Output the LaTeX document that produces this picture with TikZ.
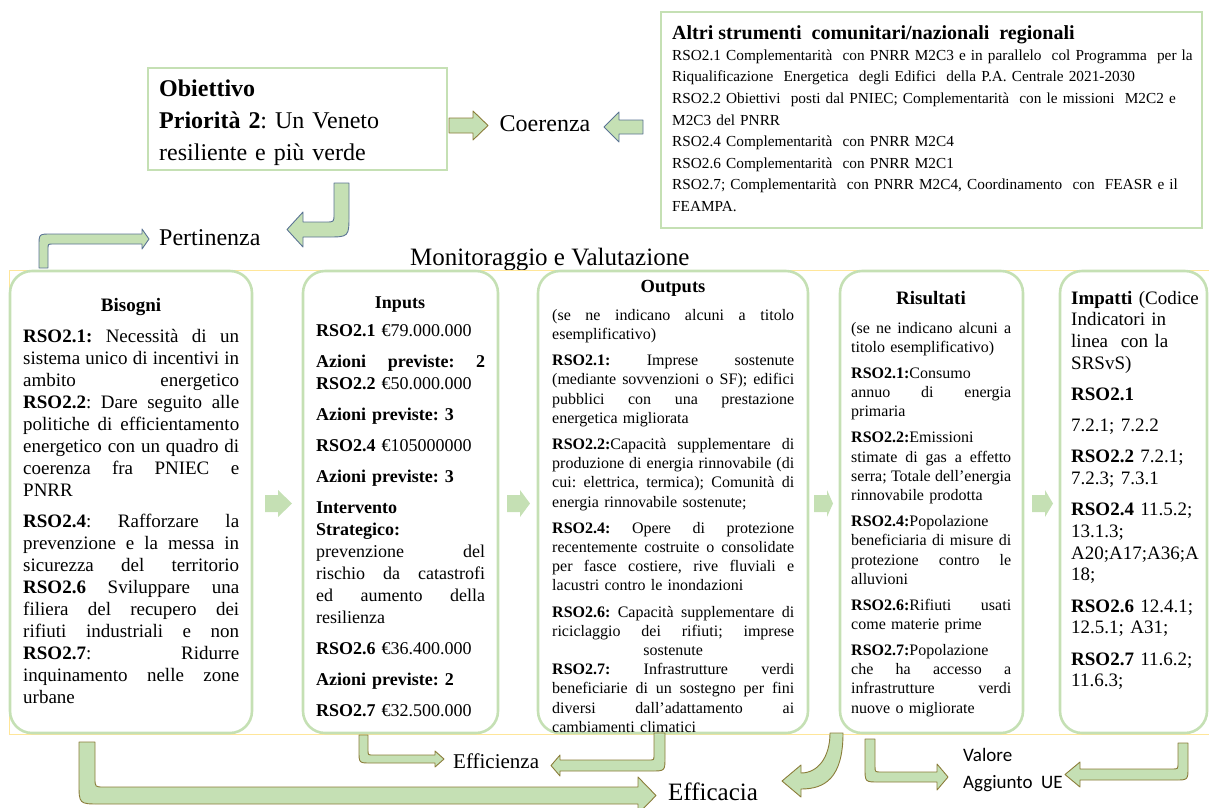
\documentclass[tikz,border=0pt]{standalone}
\usepackage{fontspec}
\setmainfont{Liberation Serif}
\newfontfamily\calibfont{Carlito}
\frenchspacing
\definecolor{gfill}{HTML}{C5E0B4}
\definecolor{gbord}{HTML}{C5E0B4}
\definecolor{oliveln}{HTML}{8B7D3A}
\definecolor{bluelnc}{HTML}{5A7394}
\definecolor{yellowln}{HTML}{FFE699}
\newcommand\jb[1]{\makebox[216pt][s]{\spaceskip=0pt\xspaceskip=0pt\relax #1}\\}
\newcommand\ji[1]{\makebox[169pt][s]{\spaceskip=0pt\xspaceskip=0pt\relax #1}\\}
\newcommand\jo[1]{\makebox[242pt][s]{\spaceskip=0pt\xspaceskip=0pt\relax #1}\\}
\newcommand\jr[1]{\makebox[160pt][s]{\spaceskip=0pt\xspaceskip=0pt\relax #1}\\}
\newcommand\fs[2]{\fontsize{#1}{#2}\selectfont}
\tikzset{
  colbox/.style={draw=gbord, line width=2.6pt, rounded corners=22pt},
  sqbox/.style={draw=gbord, line width=2.6pt},
  oarrow/.style={fill=gfill, draw=oliveln, line width=0.9pt, line join=round},
  barrow/.style={fill=gfill, draw=bluelnc, line width=0.9pt, line join=round},
  sarrow/.style={fill=gfill},
  body/.style={anchor=north west, inner sep=0pt, align=left},
  lbl/.style={inner sep=0pt}
}
\newcommand\smallarr[3]{\fill[sarrow] (#1,#3-8.5) -- (#1+13,#3-8.5) -- (#1+13,#3-13.5) -- (#2,#3) -- (#1+13,#3+13.5) -- (#1+13,#3+8.5) -- (#1,#3+8.5) -- cycle;}
\begin{document}
\begin{tikzpicture}[x=1pt,y=-1pt]
\useasboundingbox (0,0) rectangle (1209,807);

% ---------- top part ----------
\draw[sqbox] (148,68) rectangle (447,170);
\node[body, text width=285, font={\fs{24}{32}}] (obiet) at (159,73.6) {\strut\textbf{Obiettivo}\\
\textbf{Priorità 2}: Un Veneto\\
resiliente e più verde};

\draw[sqbox] (661,12) rectangle (1202,228);
\node[lbl, anchor=base west, font={\fs{20}{24}}] (altri) at (672,39.5) {\textbf{Altri strumenti\ \ comunitari/nazionali\ \ regionali}};
\node[body, text width=528, font={\fs{15.3}{21.6}}] (altrib) at (672,44.9) {\strut\mbox{RSO2.1 Complementarità\ \ con PNRR M2C3 e in parallelo\ \ col Programma\ \ per la}\\
\mbox{Riqualificazione\ \ Energetica\ \ degli Edifici\ \ della P.A. Centrale 2021-2030}\\
\mbox{RSO2.2 Obiettivi\ \ posti dal PNIEC; Complementarità\ \ con le missioni\ \ M2C2 e}\\
M2C3 del PNRR\\
\mbox{RSO2.4 Complementarità\ \ con PNRR M2C4}\\
\mbox{RSO2.6 Complementarità\ \ con PNRR M2C1}\\
\mbox{RSO2.7; Complementarità\ \ con PNRR M2C4, Coordinamento\ \ con\ \ FEASR e il}\\
FEAMPA.};

\node[lbl, anchor=base, font={\fs{24}{28}}] (coer) at (545,131) {Coerenza};
\draw[oarrow] (449,118) -- (473,118) -- (473,111) -- (488,125.5) -- (473,140) -- (473,133) -- (449,133) -- cycle;
\draw[barrow] (643,120) -- (619,120) -- (619,112) -- (604,127) -- (619,142) -- (619,134) -- (643,134) -- cycle;

\draw[barrow] (334,183) -- (349,183) -- (349,215) .. controls (349,237) .. (327,237) -- (303,237) -- (303,247) -- (287,229.5) -- (303,212) -- (303,222) -- (326,222) .. controls (334,222) .. (334,214) -- cycle;

\node[lbl, anchor=base west, font={\fs{24}{28}}] (pert) at (159,245) {Pertinenza};
\draw[barrow] (39,268) -- (39,246) .. controls (39,234) .. (51,234) -- (142,234) -- (142,229) -- (149,239) -- (142,249) -- (142,244) -- (53,244) .. controls (48,244) .. (48,249) -- (48,268) -- cycle;

\node[lbl, anchor=base west, font={\fs{25}{28}}] (monit) at (410,265) {Monitoraggio e Valutazione};

% ---------- columns ----------
\draw[yellowln, line width=0.8pt] (9,270) rectangle (1209,734);
\draw[colbox] (10,271) rectangle (252,733);
\draw[colbox] (303,271) rectangle (498,733);
\draw[colbox] (538,271) rectangle (808,733);
\draw[colbox] (840,271) rectangle (1023,733);
\draw[colbox] (1060,271) rectangle (1207,733);

\smallarr{265}{292}{503.5}
\smallarr{507}{530}{503.5}
\smallarr{814}{833}{503.5}
\smallarr{1032}{1053}{503.5}

% Bisogni
\node[lbl, anchor=base, font={\fs{19}{22}}] (bisT) at (131,311) {\textbf{Bisogni}};
\node[body, text width=216, font={\fs{19}{22}}] (bis) at (23,326.6) {\strut\jb{\textbf{RSO2.1:} Necessità di un}
\jb{sistema unico di incentivi in}
\jb{ambito energetico}
\jb{\textbf{RSO2.2}: Dare seguito alle}
\jb{politiche di efficientamento}
\jb{energetico con un quadro di}
\jb{coerenza fra PNIEC e}
PNRR\\[9.5pt]
\jb{\textbf{RSO2.4}: Rafforzare la}
\jb{prevenzione e la messa in}
\jb{sicurezza del territorio}
\jb{\textbf{RSO2.6} Sviluppare una}
\jb{filiera del recupero dei}
\jb{rifiuti industriali e non}
\jb{\textbf{RSO2.7}: Ridurre}
\jb{inquinamento nelle zone}
urbane};

% Inputs
\node[lbl, anchor=base, font={\fs{18}{22}}] (inpT) at (400,308) {\textbf{Inputs}};
\node[body, text width=169, font={\fs{18}{22}}] (inp) at (316,320.6) {\strut\textbf{RSO2.1} €79.000.000\\[9pt]
\ji{\textbf{Azioni previste: 2}}
\textbf{RSO2.2} €50.000.000\\[9pt]
\textbf{Azioni previste: 3}\\[9pt]
\textbf{RSO2.4} €105000000\\[9pt]
\textbf{Azioni previste: 3}\\[9pt]
\textbf{Intervento}\\
\textbf{Strategico:}\\
\ji{prevenzione del}
\ji{rischio da catastrofi}
\ji{ed aumento della}
resilienza\\[9pt]
\textbf{RSO2.6} €36.400.000\\[9pt]
\textbf{Azioni previste: 2}\\[9pt]
\textbf{RSO2.7} €32.500.000};

% Outputs
\node[lbl, anchor=base, font={\fs{18.5}{22}}] (outT) at (673,292) {\textbf{Outputs}};
\node[body, text width=242, font={\fs{16}{19.2}}] (out) at (552,306.6) {\strut\jo{(se ne indicano alcuni a titolo}
esemplificativo)\\[7pt]
\jo{\textbf{RSO2.1:} Imprese sostenute}
\jo{(mediante sovvenzioni o SF); edifici}
\jo{pubblici con una prestazione}
energetica migliorata\\[7pt]
\jo{\textbf{RSO2.2:}Capacità supplementare di}
\jo{produzione di energia rinnovabile (di}
\jo{cui: elettrica, termica); Comunità di}
energia rinnovabile sostenute;\\[7pt]
\jo{\textbf{RSO2.4:} Opere di protezione}
\jo{recentemente costruite o consolidate}
\jo{per fasce costiere, rive fluviali e}
lacustri contro le inondazioni\\[7pt]
\jo{\textbf{RSO2.6:} Capacità supplementare di}
\jo{riciclaggio dei rifiuti; imprese}
\makebox[242pt][c]{sostenute}\\
\jo{\textbf{RSO2.7:} Infrastrutture verdi}
\jo{beneficiarie di un sostegno per fini}
\jo{diversi dall'adattamento ai}
cambiamenti climatici};

% Risultati
\node[lbl, anchor=base, font={\fs{19}{22}}] (risT) at (931,304) {\textbf{Risultati}};
\node[body, text width=160, font={\fs{16}{19.3}}] (ris) at (851,319.5) {\strut\jr{(se ne indicano alcuni a}
titolo esemplificativo)\\[6.5pt]
\textbf{RSO2.1:}Consumo\\
\jr{annuo di energia}
primaria\\[6.5pt]
\textbf{RSO2.2:}Emissioni\\
\jr{stimate di gas a effetto}
\jr{serra; Totale dell'energia}
rinnovabile prodotta\\[6.5pt]
\textbf{RSO2.4:}Popolazione\\
\jr{beneficiaria di misure di}
\jr{protezione contro le}
alluvioni\\[6.5pt]
\jr{\textbf{RSO2.6:}Rifiuti usati}
come materie prime\\[6.5pt]
\textbf{RSO2.7:}Popolazione\\
\jr{che ha accesso a}
\jr{infrastrutture verdi}
nuove o migliorate};

% Impatti
\node[body, text width=135, font={\fs{19}{21.7}}] (imp) at (1071,288.8) {\strut\textbf{Impatti} (Codice\\
Indicatori in\\
linea\ \ con la\\
SRSvS)\\[9.5pt]
\textbf{RSO2.1}\\[9.5pt]
7.2.1; 7.2.2\\[9.5pt]
\textbf{RSO2.2} 7.2.1;\\
7.2.3; 7.3.1\\[9.5pt]
\textbf{RSO2.4} 11.5.2;\\
13.1.3;\\
A20;A17;A36;A\\
18;\\[9.5pt]
\textbf{RSO2.6} 12.4.1;\\
12.5.1; A31;\\[9.5pt]
\textbf{RSO2.7} 11.6.2;\\
11.6.3;};

% ---------- bottom ----------
\draw[oarrow] (79,742) -- (95,742) -- (95,778) .. controls (95,787) .. (104,787) -- (638,787) -- (638,777) -- (656,795.5) -- (638,814) -- (638,804) -- (100,804) .. controls (79,804) .. (79,783) -- cycle;
\node[lbl, anchor=base west, font={\fs{25}{28}}] (effc) at (668,800) {Efficacia};

\draw[oarrow] (359,735) -- (368,735) -- (368,750) .. controls (368,755) .. (373,755) -- (435,755) -- (435,751) -- (444,759) -- (435,767) -- (435,763) -- (371,763) .. controls (359,763) .. (359,751) -- cycle;
\node[lbl, anchor=base west, font={\fs{21}{24}}] (effz) at (453,768) {Efficienza};
\draw[oarrow] (654,733) -- (665,733) -- (665,757) .. controls (665,771) .. (651,771) -- (560,771) -- (560,776) -- (551,765.5) -- (560,755) -- (560,760) -- (649,760) .. controls (654,760) .. (654,755) -- cycle;

\draw[oarrow] (830,733) -- (843,733) .. controls (843,778) and (825,789) .. (801,789) -- (801,797) -- (782,781) -- (801,765) -- (801,773) .. controls (818,773) and (830,757) .. (830,733) -- cycle;

\draw[oarrow] (865,739) -- (875,739) -- (875,766) .. controls (875,772) .. (881,772) -- (937,772) -- (937,764) -- (948,777) -- (937,790) -- (937,782) -- (879,782) .. controls (865,782) .. (865,768) -- cycle;
\node[lbl, anchor=base west, font={\fs{19}{22}\calibfont}] (valore) at (963,761) {Valore};
\node[lbl, anchor=base west, font={\fs{19}{22}\calibfont}] (aggiunto) at (963,788) {Aggiunto\ \ UE};
\draw[oarrow] (1178,743) -- (1188,743) -- (1188,767) .. controls (1188,780) .. (1175,780) -- (1080,780) -- (1080,787) -- (1065,774.5) -- (1080,762) -- (1080,769) -- (1172,769) .. controls (1178,769) .. (1178,763) -- cycle;
\end{tikzpicture}
\end{document}
